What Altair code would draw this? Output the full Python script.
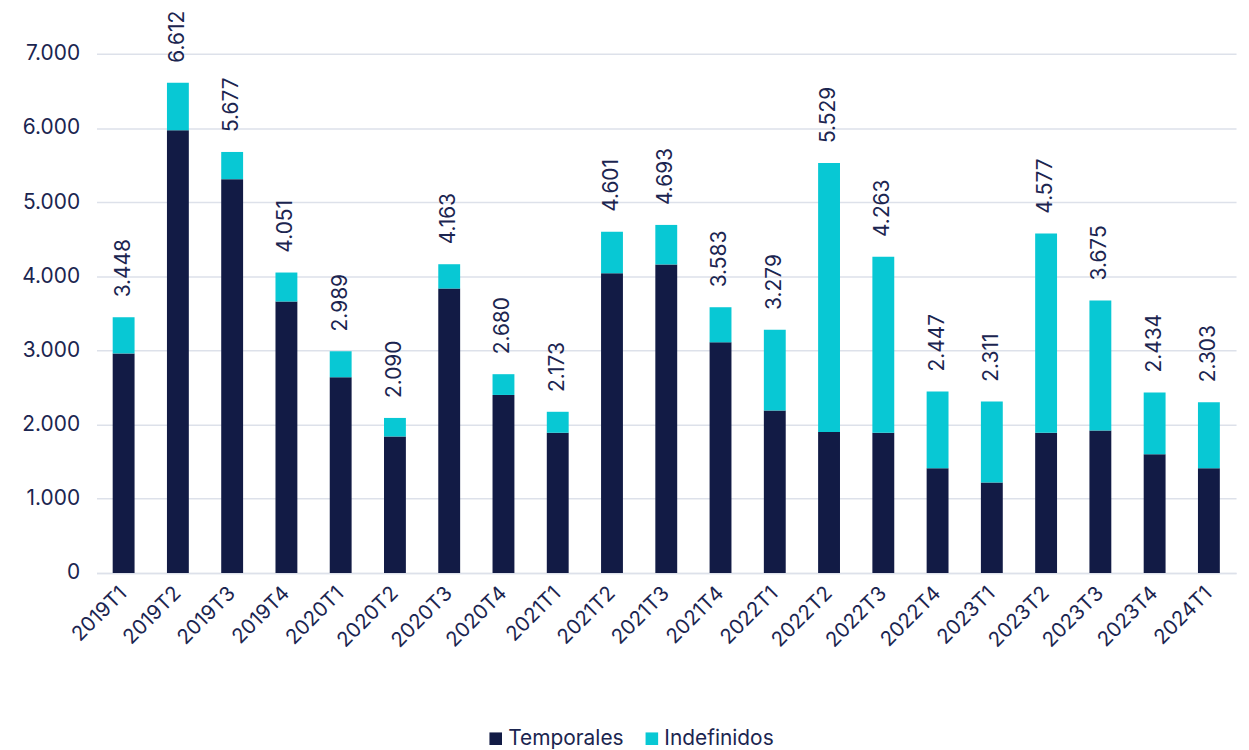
import altair as alt
import pandas as pd

periods = ["2019T1", "2019T2", "2019T3", "2019T4", "2020T1", "2020T2", "2020T3", "2020T4",
           "2021T1", "2021T2", "2021T3", "2021T4", "2022T1", "2022T2", "2022T3", "2022T4",
           "2023T1", "2023T2", "2023T3", "2023T4", "2024T1"]
temporales = [2960, 5970, 5310, 3660, 2640, 1840, 3835, 2400, 1890, 4040, 4160, 3110,
              2190, 1900, 1890, 1410, 1220, 1890, 1920, 1600, 1410]
indefinidos = [488, 642, 367, 391, 349, 250, 328, 280, 283, 561, 533, 473,
               1089, 3629, 2373, 1037, 1091, 2687, 1755, 834, 893]
series = ["Temporales", "Indefinidos"]
colors = ["#121b45", "#08c8d4"]
y_ticks = [0, 1000, 2000, 3000, 4000, 5000, 6000, 7000]

rows = []
for p, t, i in zip(periods, temporales, indefinidos):
    rows.append({"periodo": p, "serie": series[0], "valor": t, "ord": 0})
    rows.append({"periodo": p, "serie": series[1], "valor": i, "ord": 1})
df = pd.DataFrame(rows)

FONT = "Inter"
TXT = "#1b2550"

base = alt.Chart(df)

bars = base.mark_bar(size=22).encode(
    x=alt.X("periodo:N", sort=periods, title=None,
            scale=alt.Scale(paddingInner=0.6, paddingOuter=0.3),
            axis=alt.Axis(labelAngle=-45, labelAlign="right", labelBaseline="middle",
                          labelFontSize=20.5, labelColor=TXT, labelFont=FONT, labelPadding=17,
                          ticks=False, domain=True, domainColor="#dde1ea", domainWidth=1.5,
                          grid=False)),
    y=alt.Y("valor:Q", stack="zero", title=None,
            scale=alt.Scale(domain=[0, 7000], nice=False),
            axis=alt.Axis(values=y_ticks, labelFontSize=21, labelColor=TXT, labelFont=FONT,
                          labelPadding=17, ticks=False, domain=False,
                          gridColor="#dde1ea", gridWidth=1.5,
                          labelExpr="replace(format(datum.value, ',d'), ',', '.')")),
    color=alt.Color("serie:N", sort=series,
                    scale=alt.Scale(domain=series, range=colors),
                    legend=alt.Legend(title=None, orient="none", legendX=391, legendY=678,
                                      direction="horizontal", symbolType="square",
                                      symbolSize=160, symbolStrokeWidth=0,
                                      labelFontSize=21, labelFont=FONT, labelColor=TXT,
                                      labelOffset=2, columnPadding=17)),
    order=alt.Order("ord:Q", sort="ascending"),
)

labels = base.transform_aggregate(
    total="sum(valor)", groupby=["periodo"]
).transform_calculate(
    txt="replace(format(datum.total, ',d'), ',', '.')"
).mark_text(angle=270, align="left", baseline="middle", dx=20, fontSize=21,
            font=FONT, color=TXT).encode(
    x=alt.X("periodo:N", sort=periods),
    y=alt.Y("total:Q"),
    text="txt:N",
)

chart = alt.layer(bars, labels).properties(
    width=1146, height=522,
    autosize=alt.AutoSizeParams(type="none"),
    padding={"left": 89, "top": 44, "right": 5, "bottom": 180},
).configure_view(stroke=None, clip=False)

chart.save("out.html", embed_options={"renderer": "svg", "actions": False})
